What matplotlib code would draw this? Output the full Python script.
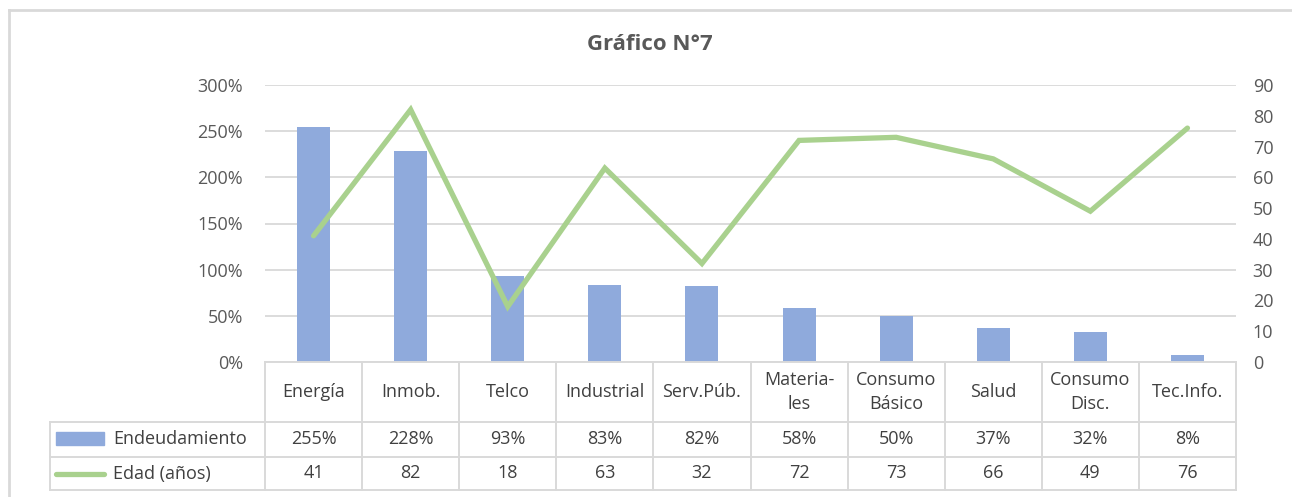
import matplotlib
matplotlib.use("Agg")
import matplotlib.pyplot as plt
from matplotlib.patches import Rectangle
from matplotlib.lines import Line2D

# data
categories = ["Energía", "Inmob.", "Telco", "Industrial", "Serv.Púb.",
              "Materia-\nles", "Consumo\nBásico", "Salud", "Consumo\nDisc.", "Tec.Info."]
endeudamiento = [255, 228, 93, 83, 82, 58, 50, 37, 32, 8]   # %
edad = [41, 82, 18, 63, 32, 72, 73, 66, 49, 76]              # años
series_names = ["Endeudamiento", "Edad (años)"]

bar_color = "#8FAADC"
line_color = "#A9D18E"
grid_color = "#D9D9D9"
text_color = "#595959"
table_text = "#404040"
fs = 13

plt.rcParams['font.family'] = ['Open Sans', 'DejaVu Sans']

W, H = 1292, 497
fig = plt.figure(figsize=(W / 100, H / 100), dpi=100)

left, right, top, bottom = 265, 1236, 85, 362
ax = fig.add_axes([left / W, 1 - bottom / H, (right - left) / W, (bottom - top) / H])
x = list(range(len(categories)))
ax.bar(x, [v / 100 for v in endeudamiento], width=0.34, color=bar_color, zorder=2)
ax.set_xlim(-0.5, len(categories) - 0.5)
ax.set_ylim(0, 3)
ax.set_yticks([0, 0.5, 1, 1.5, 2, 2.5, 3])
ax.set_yticklabels(["0%", "50%", "100%", "150%", "200%", "250%", "300%"])
ax.yaxis.grid(True, color=grid_color, lw=1.3, zorder=0)
ax.set_axisbelow(True)
ax.set_xticks([])
ax.tick_params(axis="y", length=0, pad=16, labelsize=fs, labelcolor=text_color)
for s in ax.spines.values():
    s.set_visible(False)

ax2 = ax.twinx()
ax2.plot(x, edad, color=line_color, lw=3.8, solid_capstyle="round", solid_joinstyle="miter", zorder=3)
ax2.set_ylim(0, 90)
ax2.set_yticks(range(0, 91, 10))
ax2.tick_params(axis="y", length=0, pad=12, labelsize=fs, labelcolor=text_color)
for s in ax2.spines.values():
    s.set_visible(False)

fig.text(650 / W, 1 - 45 / H, "Gráfico N°7", ha="center", va="center",
         fontsize=16, fontweight="bold", color=text_color)

# data table below the plot
tb_bottom = 490
axt = fig.add_axes([left / W, 1 - tb_bottom / H, (right - left) / W, (tb_bottom - bottom) / H])
axt.set_xlim(-0.5, len(categories) - 0.5)
axt.set_ylim(tb_bottom - bottom, 0)
axt.axis("off")
colw = (right - left) / len(categories)
xl = -0.5 - (left - 50) / colw
rows = [0, 60, 95, 128]
lkw = dict(color=grid_color, lw=1.4, clip_on=False)
axt.plot([-0.5, 9.5], [rows[0], rows[0]], **lkw)
for r in rows[1:]:
    axt.plot([xl, 9.5], [r, r], **lkw)
for k in range(len(categories) + 1):
    axt.plot([k - 0.5, k - 0.5], [rows[0], rows[-1]], **lkw)
axt.plot([xl, xl], [rows[1], rows[-1]], **lkw)

for i, c in enumerate(categories):
    axt.text(i, (rows[0] + rows[1]) / 2, c, ha="center", va="center", fontsize=fs,
             color=table_text, linespacing=1.4)
    axt.text(i, (rows[1] + rows[2]) / 2, f"{endeudamiento[i]}%", ha="center", va="center",
             fontsize=fs, color=table_text)
    axt.text(i, (rows[2] + rows[3]) / 2, str(edad[i]), ha="center", va="center",
             fontsize=fs, color=table_text)

kx0 = -0.5 - (left - 56) / colw
kx1 = -0.5 - (left - 104) / colw
tx = -0.5 - (left - 113) / colw
axt.add_patch(Rectangle((kx0, 70), kx1 - kx0, 13, color=bar_color, clip_on=False))
axt.add_line(Line2D([kx0, kx1], [111.5, 111.5], color=line_color, lw=3.8,
                    solid_capstyle="round", clip_on=False))
axt.text(tx, (rows[1] + rows[2]) / 2, series_names[0], ha="left", va="center",
         fontsize=fs, color=table_text)
axt.text(tx, (rows[2] + rows[3]) / 2, series_names[1], ha="left", va="center",
         fontsize=fs, color=table_text)

# chart frame
fig.add_artist(Line2D([9 / W, 1], [1 - 10 / H, 1 - 10 / H], color=grid_color, lw=2))
fig.add_artist(Line2D([9 / W, 9 / W], [0, 1 - 10 / H], color=grid_color, lw=2))

fig.savefig("out.png", dpi=100)
